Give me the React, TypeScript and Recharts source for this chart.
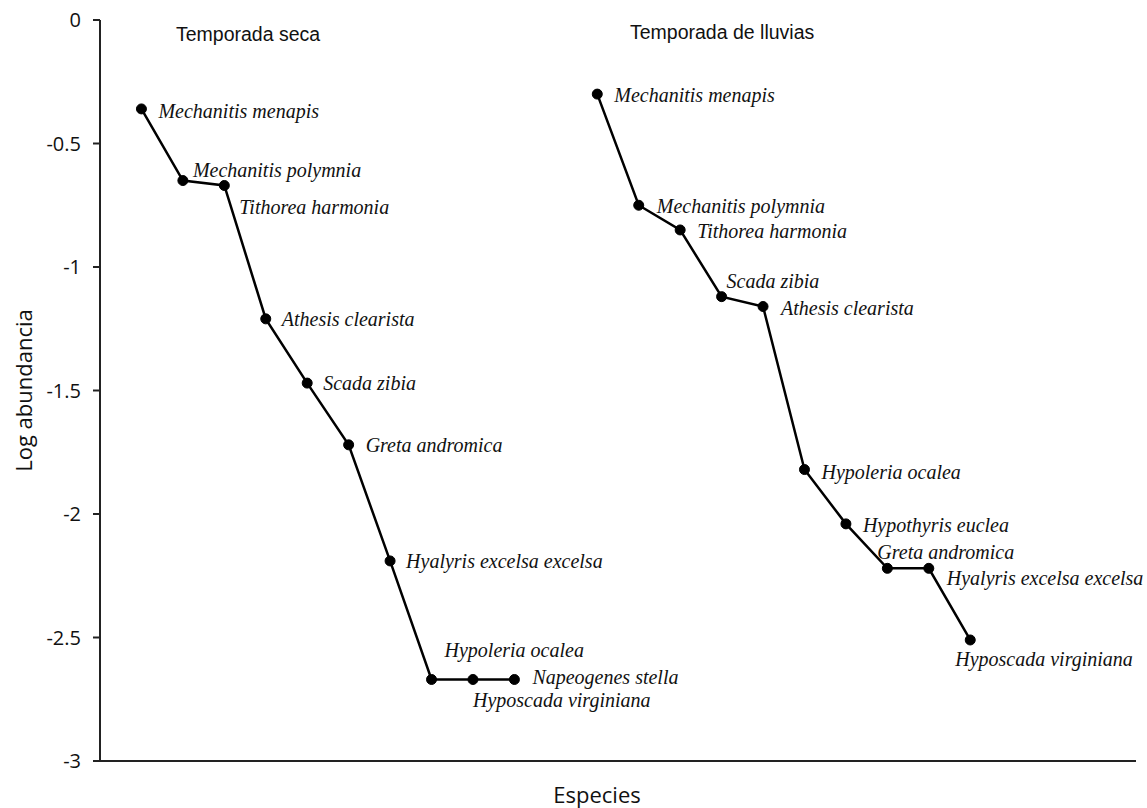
import { Label, LabelList, Line, LineChart, XAxis, YAxis } from "recharts";

// rank abundance, dry season (ranks 1-10)
const drySpecies = [
  "Mechanitis menapis",
  "Mechanitis polymnia",
  "Tithorea harmonia",
  "Athesis clearista",
  "Scada zibia",
  "Greta andromica",
  "Hyalyris excelsa excelsa",
  "Hypoleria ocalea",
  "Hyposcada virginiana",
  "Napeogenes stella"
];
const dryLog = [-0.36, -0.65, -0.67, -1.21, -1.47, -1.72, -2.19, -2.67, -2.67, -2.67];

// rank abundance, rainy season (ranks 12-21)
const rainySpecies = [
  "Mechanitis menapis",
  "Mechanitis polymnia",
  "Tithorea harmonia",
  "Scada zibia",
  "Athesis clearista",
  "Hypoleria ocalea",
  "Hypothyris euclea",
  "Greta andromica",
  "Hyalyris excelsa excelsa",
  "Hyposcada virginiana"
];
const rainyLog = [-0.3, -0.75, -0.85, -1.12, -1.16, -1.82, -2.04, -2.22, -2.22, -2.51];

const yTicks = [0, -0.5, -1, -1.5, -2, -2.5, -3];

// label placement relative to each dot (dx, dy)
const dryOffsets: [number, number][] = [
  [17, 2], [10, -11], [15, 22], [16, 0], [16, 0],
  [17, 0], [16, 0], [13, -29], [0, 21], [18, -2]
];
const rainyOffsets: [number, number][] = [
  [17, 1], [18, 1], [17, 1], [5, -16], [18, 1],
  [17, 2], [17, 1], [-10, -16], [18, 10], [-15, 19]
];

const dryData = dryLog.map((y, i) => ({ rank: i + 1, y, name: drySpecies[i] }));
const rainyData = rainyLog.map((y, i) => ({ rank: i + 12, y, name: rainySpecies[i] }));

const sans = "'Open Sans', 'DejaVu Sans', sans-serif";
const arial = "'Liberation Sans', Arial, sans-serif";
const serif = "'Liberation Serif', 'Times New Roman', serif";

function speciesLabel(offsets: [number, number][]) {
  return (props: any) => {
    const { x, y, index, value } = props;
    const [dx, dy] = offsets[index] ?? [16, 0];
    return (
      <text
        x={Number(x) + dx}
        y={Number(y) + dy}
        dominantBaseline="central"
        fontFamily={serif}
        fontStyle="italic"
        fontSize={20}
        fill="#111"
      >
        {value}
      </text>
    );
  };
}

const dotStyle = { r: 5, fill: "#000", stroke: "#000", strokeWidth: 1 };

export default function App() {
  return (
    <div style={{ position: "absolute", left: 0, top: 0, width: 1147, height: 808, background: "#fff" }}>
      <LineChart width={1147} height={808} margin={{ top: 20, right: 11, bottom: 0, left: 0 }}>
        <XAxis
          type="number"
          dataKey="rank"
          domain={[0, 25]}
          tick={false}
          tickLine={false}
          height={47}
          axisLine={{ stroke: "#222", strokeWidth: 2 }}
        >
          <Label value="Especies" position="center" dx={-21} dy={11} fontFamily={sans} fontSize={22} fill="#111" />
        </XAxis>
        <YAxis
          type="number"
          domain={[-3, 0]}
          ticks={yTicks}
          width={100}
          tickSize={7}
          tickMargin={12}
          axisLine={{ stroke: "#222", strokeWidth: 2 }}
          tickLine={{ stroke: "#222", strokeWidth: 2 }}
          tick={{ fill: "#111", fontSize: 20, fontFamily: sans }}
        >
          <Label value="Log abundancia" angle={-90} position="center" dx={-26} fontFamily={sans} fontSize={22} fill="#111" />
        </YAxis>
        <Line
          data={dryData}
          dataKey="y"
          stroke="#000"
          strokeWidth={2.5}
          dot={dotStyle}
          isAnimationActive={false}
        >
          <LabelList dataKey="name" content={speciesLabel(dryOffsets)} />
        </Line>
        <Line
          data={rainyData}
          dataKey="y"
          stroke="#000"
          strokeWidth={2.5}
          dot={dotStyle}
          isAnimationActive={false}
        >
          <LabelList dataKey="name" content={speciesLabel(rainyOffsets)} />
        </Line>
      </LineChart>
      <div style={{ position: "absolute", left: 176, top: 25, lineHeight: 1, fontFamily: arial, fontSize: 19.5, color: "#111", whiteSpace: "nowrap" }}>
        Temporada seca
      </div>
      <div style={{ position: "absolute", left: 630, top: 23, lineHeight: 1, fontFamily: arial, fontSize: 19.5, color: "#111", whiteSpace: "nowrap" }}>
        Temporada de lluvias
      </div>
    </div>
  );
}
